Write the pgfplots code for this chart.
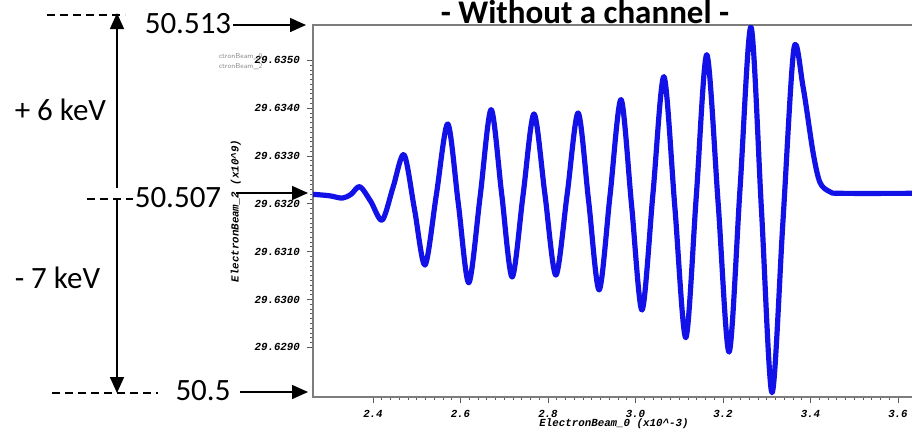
\documentclass[border=0pt]{standalone}
\usepackage{fontspec}
\setmainfont{Carlito}
\newfontfamily\monofont{Liberation Mono}
\usepackage{pgfplots}
\usepackage{pgfplotstable}
\pgfplotsset{compat=1.18}
\usetikzlibrary{arrows.meta}
\definecolor{beamblue}{RGB}{18,18,232}
\definecolor{framegray}{RGB}{125,125,125}

% ElectronBeam_2 (x10^-9) against ElectronBeam_0 (x10^-3)
\pgfplotstableread{
x      y
2.262  29.63220
2.300  29.63217
2.330  29.63212
2.350  29.63220
2.370  29.63236
2.395  29.63205
2.421  29.63166
2.446  29.63235
2.471  29.63303
2.495  29.63188
2.519  29.63072
2.545  29.63220
2.571  29.63367
2.595  29.63201
2.619  29.63035
2.645  29.63216
2.670  29.63397
2.694  29.63222
2.718  29.63047
2.743  29.63218
2.768  29.63388
2.793  29.63220
2.818  29.63051
2.844  29.63221
2.869  29.63390
2.893  29.63205
2.917  29.63020
2.942  29.63219
2.967  29.63418
2.991  29.63198
3.015  29.62978
3.040  29.63222
3.065  29.63466
3.090  29.63193
3.115  29.62920
3.139  29.63216
3.163  29.63512
3.189  29.63201
3.214  29.62890
3.239  29.63232
3.264  29.63570
3.288  29.63187
3.312  29.62805
3.337  29.63162
3.362  29.63524
3.383  29.63445
3.406  29.63307
3.422  29.63244
3.445  29.63225
3.470  29.63222
3.639  29.63222
}\beamdata

\begin{document}
\begin{tikzpicture}
\useasboundingbox (0,0) rectangle (456pt,-215pt);
\clip (0,0) rectangle (456pt,-215pt);

\begin{axis}[
  at={(156.5pt,-198.5pt)}, anchor=south west,
  width=301pt, height=186pt, scale only axis,
  xmin=2.2629, xmax=3.6389,
  ymin=29.62796, ymax=29.63574,
  axis line style={framegray, line width=0.75pt},
  xtick={2.4,2.6,2.8,3.0,3.2,3.4,3.6},
  ytick={29.629,29.630,29.631,29.632,29.633,29.634,29.635},
  minor x tick num=9, minor y tick num=9,
  xtick pos=left, ytick pos=left,
  tick align=outside,
  major tick length=3pt, minor tick length=1.5pt,
  tick style={black!65, line width=0.4pt},
  scaled x ticks=false, scaled y ticks=false,
  ticklabel style={font=\fontsize{5.4}{6}\selectfont\monofont\bfseries\itshape},
  xticklabel style={/pgf/number format/.cd, fixed, fixed zerofill, precision=1, assume math mode=true},
  yticklabel style={/pgf/number format/.cd, fixed, fixed zerofill, precision=4, assume math mode=true},
  xlabel={ElectronBeam\_0 (x10\string^-3)},
  ylabel={ElectronBeam\_2 (x10\string^9)},
  label style={font=\fontsize{5.4}{6}\selectfont\monofont\bfseries\itshape},
  xlabel style={yshift=6pt},
  ylabel style={yshift=0pt},
]
\addplot[beamblue, line width=2.6pt, smooth, line join=round] table[x=x, y=y] {\beamdata};
\end{axis}

\begin{scope}[x=0.5pt, y=-0.5pt, line width=0.75pt]
  \draw[dash pattern=on 4pt off 2.5pt] (47,15) -- (125,15);
  \draw[dash pattern=on 4pt off 2.5pt] (87,199) -- (133,199);
  \draw[dash pattern=on 4pt off 2.5pt] (52,393) -- (158,393);
  \draw[-{Triangle[length=8pt,width=7pt]}] (117,188) -- (117,13);
  \draw[-{Triangle[length=8pt,width=7pt]}] (117,200) -- (117,393);
  \draw[-{Triangle[length=8pt,width=7pt]}] (233,25) -- (306,25);
  \draw[-{Triangle[length=8pt,width=7pt]}] (236,193) -- (308,193);
  \draw[-{Triangle[length=8pt,width=7pt]}] (240,392) -- (308,392);
  \begin{scope}[every node/.style={inner sep=0pt, font=\fontsize{15.5}{17}\selectfont}]
    \node[anchor=base] at (188,33) {50.513};
    \node[anchor=base] at (178,207) {50.507};
    \node[anchor=base] at (203,400) {50.5};
    \node[anchor=base west] at (14,120) {+ 6 keV};
    \node[anchor=base west] at (14,288) {- 7 keV};
    \node[anchor=base, font=\fontsize{16.5}{18}\selectfont\bfseries] at (585,23) {- Without a channel -};
  \end{scope}
  \node[anchor=base west, inner sep=0pt, text=black!45, font=\fontsize{3.6}{4}\selectfont\sffamily] at (218,58) {ctronBeam\_0};
  \node[anchor=base west, inner sep=0pt, text=black!45, font=\fontsize{3.6}{4}\selectfont\sffamily] at (218,68) {ctronBeam\_2};
\end{scope}
\end{tikzpicture}
\end{document}
